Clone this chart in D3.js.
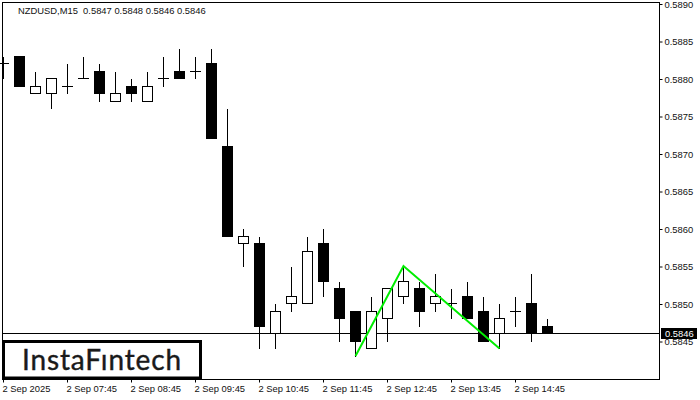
<!DOCTYPE html>
<html><head><meta charset="utf-8">
<script src="https://cdnjs.cloudflare.com/ajax/libs/d3/7.8.5/d3.min.js"></script>
<style>html,body{margin:0;padding:0;background:#fff}svg{display:block}text{font-family:"Liberation Sans",Arial,sans-serif;font-size:9.4px;fill:#111}</style>
</head><body><svg id="c" width="700" height="400"></svg>
<script>
const opens  = [.5882,.5883,.5878,.5878,.5879,.5880,.5881,.5877,.5879,.5877,.5880,.5881,.5881,.5882,.5871,.5858,.5858,.5846,.5850,.5850,.5858,.5852,.5849,.5844,.5848,.5851,.5852,.5850,.5850,.5851,.5849,.5846,.5849,.5850,.5847];
const highs  = [.5883,.5883,.5881,.5880,.5882,.5883,.5882,.5881,.5880,.5881,.5883,.5884,.5883,.5884,.5876,.5860,.5859,.5850,.5855,.5859,.5860,.5853,.5849,.5851,.5852,.5855,.5853,.5854,.5852,.5853,.5851,.5850,.5851,.5854,.5848];
const lows   = [.5880,.5879,.5878,.5876,.5878,.5880,.5877,.5877,.5877,.5877,.5879,.5880,.5880,.5872,.5859,.5855,.5844,.5844,.5849,.5850,.5851,.5845,.5843,.5844,.5845,.5850,.5847,.5849,.5848,.5848,.5845,.5844,.5847,.5845,.5846];
const closes = [.5882,.5879,.5879,.5880,.5879,.5880,.5878,.5878,.5878,.5879,.5880,.5880,.5881,.5872,.5859,.5859,.5847,.5849,.5851,.5857,.5853,.5848,.5845,.5849,.5852,.5853,.5849,.5851,.5850,.5848,.5845,.5848,.5849,.5846,.5846];
const patternIdx = [22,25,31];
const patternVal = [.5843,.5855,.5844];
const priceTicks = [.5890,.5885,.5880,.5875,.5870,.5865,.5860,.5855,.5850,.5845];
const timeTickIdx = [0,4,8,12,16,20,24,28,32];
const timeLabels = ["2 Sep 2025","2 Sep 07:45","2 Sep 08:45","2 Sep 09:45","2 Sep 10:45","2 Sep 11:45","2 Sep 12:45","2 Sep 13:45","2 Sep 14:45"];
const lastPrice = .5846;
const header = "NZDUSD,M15  0.5847 0.5848 0.5846 0.5846";

const svg = d3.select("#c");
const x = d3.scaleLinear().domain([0,34]).range([3,547]);
const y = d3.scaleLinear().domain([.5890,.5845]).range([4,341.5]);
const py = v => Math.floor(y(v)-0.2)+0.5;
const px = i => Math.round(x(i))+0.5;

const frame = {l:2.5,t:2.5,r:659.5,b:379.5};
svg.append("rect").attr("x",0).attr("y",0).attr("width",700).attr("height",400).attr("fill","#fff");

// price line, behind the candles
svg.append("line").attr("x1",frame.l).attr("x2",frame.r).attr("y1",py(lastPrice)).attr("y2",py(lastPrice)).attr("stroke","#000");

// candles
const g = svg.append("g").attr("shape-rendering","crispEdges");
const idx = d3.range(opens.length);
g.selectAll("line.w").data(idx).join("line").attr("class","w")
  .attr("x1",px).attr("x2",px).attr("y1",i=>py(highs[i])).attr("y2",i=>py(lows[i])+0.5).attr("stroke","#000");
g.selectAll("path.b").data(idx).join("path").attr("class","b")
  .attr("d",i=>{
    const t=py(Math.max(opens[i],closes[i])), b=py(Math.min(opens[i],closes[i])), c=px(i);
    if(opens[i]===closes[i]) return `M${c-5.5},${t}H${c+5.5}`;
    return `M${c-5},${t}H${c+5}V${b}H${c-5}Z`;
  })
  .attr("fill",i=>closes[i]<opens[i]?"#000":"#fff")
  .attr("stroke","#000");

// pattern
svg.append("path")
  .attr("d",d3.line().x((d,i)=>x(patternIdx[i])+0.5).y(d=>y(d)-0.5)(patternVal))
  .attr("fill","none").attr("stroke","#00ee00").attr("stroke-width",2);

// frame
svg.append("path").attr("d",`M${frame.l},${frame.b}V${frame.t}H${frame.r}V${frame.b}Z`)
  .attr("fill","none").attr("stroke","#000").attr("shape-rendering","crispEdges");

// axes
const ay = svg.append("g").attr("transform",`translate(659.5,0)`)
  .call(d3.axisRight(y).tickValues(priceTicks).tickFormat(d3.format(".4f")).tickSize(3).tickPadding(2));
ay.select(".domain").remove();
ay.selectAll("text").attr("dy","0.36em").style("font-family",'"Liberation Sans",Arial,sans-serif').style("font-size","9.4px");
const ax = svg.append("g").attr("transform",`translate(0,379.5)`)
  .call(d3.axisBottom(x).tickValues(timeTickIdx).tickFormat((d,i)=>timeLabels[i]).tickSize(3).tickPadding(2));
ax.select(".domain").remove();
ax.selectAll("text").attr("text-anchor","start").attr("x",-1).attr("y",5.8).attr("dy","0.71em").style("font-family",'"Liberation Sans",Arial,sans-serif').style("font-size","9.4px");

// header
svg.append("text").attr("x",18).attr("y",14).attr("xml:space","preserve").text(header);

// last price label
svg.append("rect").attr("x",661).attr("y",328).attr("width",36).attr("height",11).attr("fill","#000");
svg.append("text").attr("x",665).attr("y",337).style("fill","#fff").text(d3.format(".4f")(lastPrice));

// logo
svg.append("rect").attr("x",3.5).attr("y",341.5).attr("width",197).attr("height",36.5).attr("fill","#fff").attr("stroke","#000").attr("stroke-width",3);
svg.append("text").attr("x",22).attr("y",369.5).style("font-family","Lato, sans-serif").style("font-size","28px").style("fill","#1a1a1a").style("stroke","#1a1a1a").style("stroke-width","0.4px").attr("textLength",159).text("InstaFıntech");
</script></body></html>
